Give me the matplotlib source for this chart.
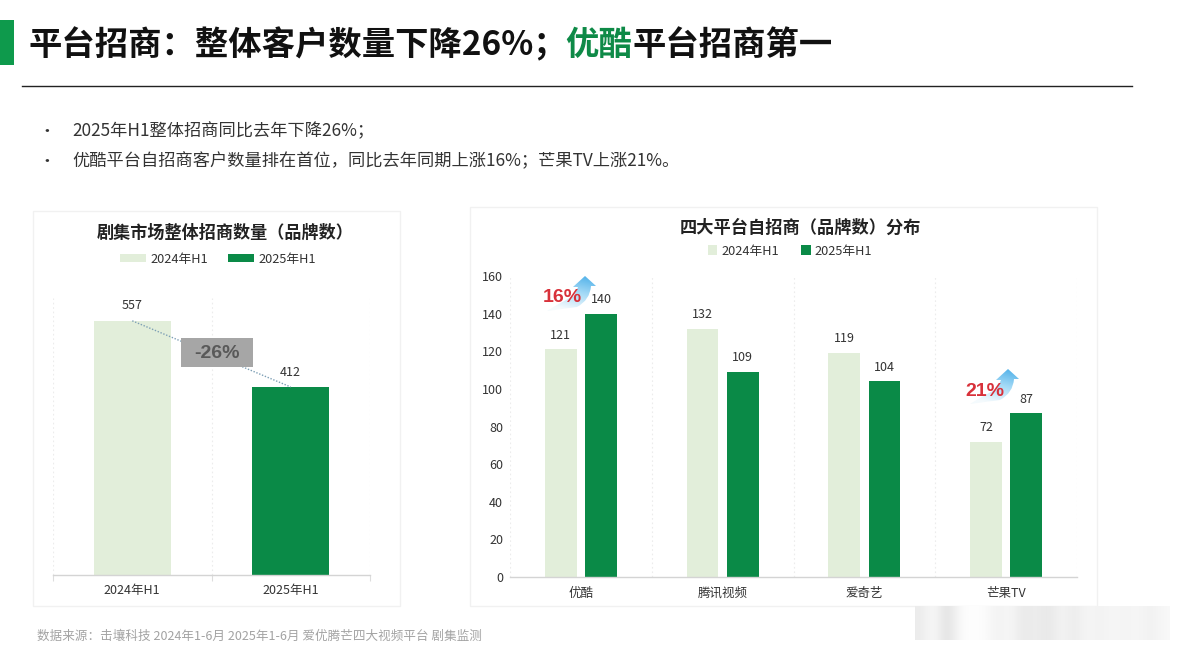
import numpy as np
import matplotlib
matplotlib.use("Agg")
import matplotlib.pyplot as plt
from matplotlib.patches import Rectangle, PathPatch
from matplotlib.path import Path
from matplotlib.colors import LinearSegmentedColormap

W, H = 1179, 652
plt.rcParams['font.family'] = ['Noto Sans CJK SC', 'DejaVu Sans']

LIGHT = '#e2eeda'
DARK = '#0a8a47'
TEXT = '#333333'
GRID = '#ececec'

# data
periods = ['2024年H1', '2025年H1']
total_brands = [557, 412]
platforms = ['优酷', '腾讯视频', '爱奇艺', '芒果TV']
brands_2024 = [121, 132, 119, 72]
brands_2025 = [140, 109, 104, 87]
y_ticks = [0, 20, 40, 60, 80, 100, 120, 140, 160]


def px_axes(fig, left, top, right, bottom):
    # axes placed by pixel box of the reference
    return fig.add_axes([left / W, 1 - bottom / H, (right - left) / W, (bottom - top) / H],
                        facecolor='none')


def style_axes(ax, n):
    for side in ['top', 'right', 'left']:
        ax.spines[side].set_visible(False)
    ax.spines['bottom'].set_color('#d4d4d4')
    ax.spines['bottom'].set_linewidth(1)
    ax.set_xlim(-0.5, n - 0.5)
    for x in np.arange(-0.5, n, 1):
        ax.axvline(x, color=GRID, lw=0.8, ls=(0, (1.5, 2.5)), zorder=0)


def draw_growth(ov, tip_x, tip_y, label):
    # curved blue arrow with a fade towards the tail, red percent on top
    verts = [(0, 0), (11, 10), (6, 10), (5, 24), (-8, 31), (-38, 35),
             (-24, 26), (-11, 20), (-7, 11), (-12, 11), (0, 0)]
    codes = [Path.MOVETO, Path.LINETO, Path.LINETO, Path.CURVE3, Path.CURVE3,
             Path.LINETO, Path.CURVE3, Path.CURVE3, Path.LINETO, Path.LINETO, Path.CLOSEPOLY]
    path = Path([(tip_x + a, tip_y + b) for a, b in verts], codes)
    patch = PathPatch(path, fc='none', ec='none')
    ov.add_patch(patch)
    cmap = LinearSegmentedColormap.from_list('fade', ['#4aaee8', '#a5daf6', '#f4fafd'])
    yy, xx = np.mgrid[0:1:40j, 0:1:40j]
    grad = 0.85 * yy + 0.3 * (1 - xx)
    im = ov.imshow(grad, cmap=cmap, vmin=0, vmax=1, aspect='auto', zorder=4,
                   extent=(tip_x - 38, tip_x + 11, tip_y + 35, tip_y))
    im.set_clip_path(patch)
    ov.text(tip_x - 23, tip_y + 22, label, color='#d8313a', fontsize=14, fontweight='bold',
            family='Liberation Sans', ha='center', va='center', zorder=5)


fig = plt.figure(figsize=(W / 100, H / 100), dpi=100, facecolor='white')

# left chart
ax1 = px_axes(fig, 53, 298, 370, 575)
style_axes(ax1, 2)
ax1.set_ylim(0, 607)
ax1.set_yticks([])
b1 = ax1.bar([0], total_brands[:1], width=0.485, color=LIGHT, label=periods[0], zorder=2)
b2 = ax1.bar([1], total_brands[1:], width=0.485, color=DARK, label=periods[1], zorder=2)
for b in (b1, b2):
    ax1.bar_label(b, padding=6, fontsize=9, color=TEXT)
ax1.plot([0, 1], total_brands, color='#7d9fb5', lw=1, ls=(0, (1, 1.2)), zorder=3)
ax1.set_xticks([-0.5, 0.5, 1.5])
ax1.set_xticklabels([])
ax1.set_xticks([0, 1], minor=True)
ax1.set_xticklabels(periods, minor=True, fontsize=9, color=TEXT)
ax1.tick_params(axis='x', which='major', length=4, color='#dddddd', direction='out')
ax1.tick_params(axis='x', which='minor', length=0, pad=6.5)
ax1.legend(loc='center', bbox_to_anchor=(218 / W, 1 - 259 / H), bbox_transform=fig.transFigure,
           ncol=2, frameon=False, fontsize=9.2, labelcolor=TEXT, handlelength=2.0, handleheight=0.55,
           handletextpad=0.35, columnspacing=1.6, borderpad=0)

# right chart
ax2 = px_axes(fig, 510, 276, 1077, 577)
style_axes(ax2, 4)
ax2.set_ylim(0, 160)
ax2.set_yticks(y_ticks)
ax2.tick_params(axis='y', length=0, labelsize=9, labelcolor=TEXT, pad=5)
x = np.arange(len(platforms))
b3 = ax2.bar(x - 0.142, brands_2024, width=0.225, color=LIGHT, label=periods[0], zorder=2)
b4 = ax2.bar(x + 0.142, brands_2025, width=0.225, color=DARK, label=periods[1], zorder=2)
for b in (b3, b4):
    ax2.bar_label(b, padding=5.5, fontsize=9, color=TEXT)
ax2.set_xticks(x)
ax2.set_xticklabels(platforms, fontsize=9, color=TEXT)
ax2.tick_params(axis='x', length=0, pad=7)
ax2.legend(loc='center', bbox_to_anchor=(790 / W, 1 - 251 / H), bbox_transform=fig.transFigure,
           ncol=2, frameon=False, fontsize=9.2, labelcolor=TEXT, handlelength=0.75, handleheight=0.75,
           handletextpad=0.35, columnspacing=1.7, borderpad=0)

# overlay in reference pixels for header, frames and callouts
ov = fig.add_axes([0, 0, 1, 1], facecolor='none')
ov.axis('off')

ov.add_patch(Rectangle((0, 20), 14, 45, fc='#0e9a4c', ec='none'))
ov.plot([22, 1132], [86, 86], color='#222222', lw=1)
ov.text(28, 45, '平台招商：整体客户数量下降26%；', fontsize=24, fontweight='bold', color='#111111', va='center')
ov.text(565, 45, '优酷', fontsize=24, fontweight='bold', color='#0e8a47', va='center')
ov.text(632, 45, '平台招商第一', fontsize=24, fontweight='bold', color='#111111', va='center')

for y, line in [(131, '2025年H1整体招商同比去年下降26%；'),
                (161, '优酷平台自招商客户数量排在首位，同比去年同期上涨16%；芒果TV上涨21%。')]:
    ov.text(38, y, '•', fontsize=12, color=TEXT, va='center')
    ov.text(72, y, line, fontsize=12.4, color=TEXT, va='center')

ov.add_patch(Rectangle((33, 211), 367, 395, fc='none', ec='#f1f1f1', lw=1))
ov.add_patch(Rectangle((470, 207), 627, 399, fc='none', ec='#f1f1f1', lw=1))
ov.text(225, 233, '剧集市场整体招商数量（品牌数）', fontsize=12.3, fontweight='bold', color='#222222', ha='center', va='center')
ov.text(800, 228, '四大平台自招商（品牌数）分布', fontsize=12.4, fontweight='bold', color='#222222', ha='center', va='center')

ov.add_patch(Rectangle((181, 338), 72, 29, fc='#a6a6a6', ec='none', zorder=3))
ov.text(217, 353, '-26%', fontsize=14, fontweight='bold', family='Liberation Sans', color='#595959',
        ha='center', va='center', zorder=4)

draw_growth(ov, 585, 276, '16%')
draw_growth(ov, 1008, 369, '21%')

ov.text(37, 636, '数据来源：击壤科技 2024年1-6月 2025年1-6月 爱优腾芒四大视频平台 剧集监测',
        fontsize=9.05, color='#a3a3a3', va='center')

# blurred watermark in the lower right corner
smear = np.array([[0.12, 0.02, 0.20, 0.03, 0.0, 0.02, 0.08, 0.04, 0.14, 0.10, 0.15, 0.06,
                   0.12, 0.05, 0.08, 0.05, 0.07, 0.05, 0.09, 0.04]])
cmap_gray = LinearSegmentedColormap.from_list('smear', ['#ffffff', '#bdbdbd'])
ov.imshow(smear, cmap=cmap_gray, vmin=0, vmax=0.4, aspect='auto', interpolation='bicubic',
          extent=(915, 1170, 640, 606), zorder=1)

ov.set_xlim(0, W)
ov.set_ylim(H, 0)

fig.savefig('out.png', dpi=100)
